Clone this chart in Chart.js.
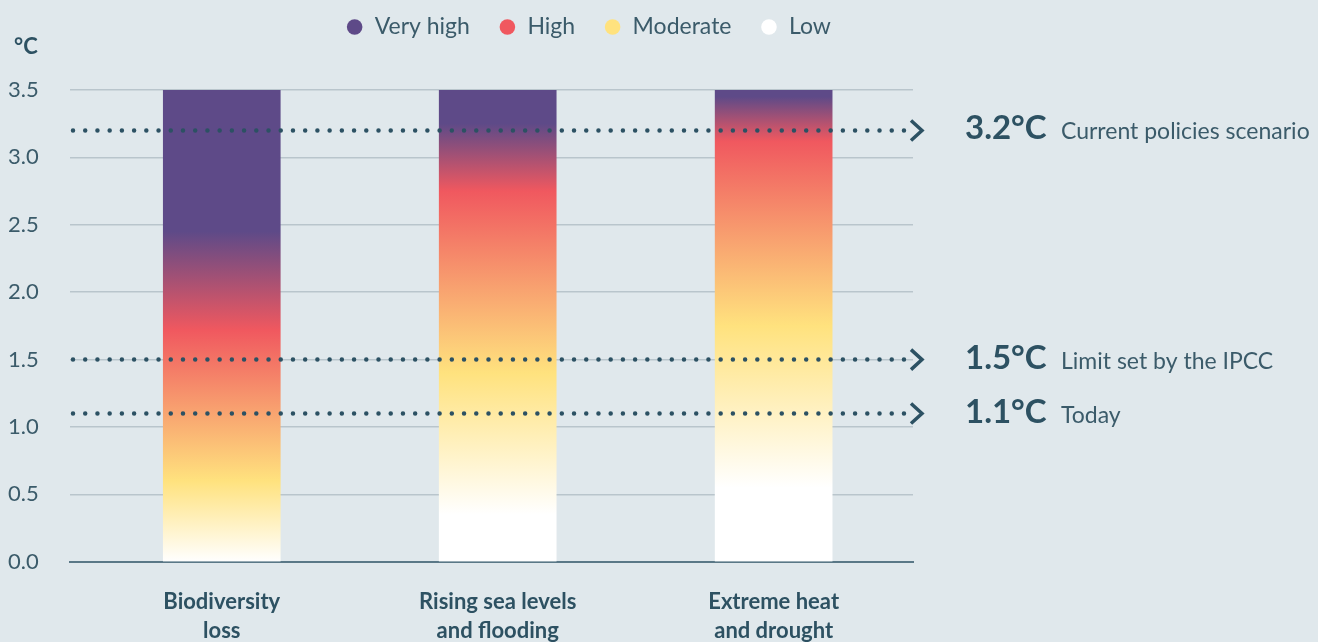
<!DOCTYPE html>
<html lang="en">
<head>
<meta charset="utf-8">
<title>Climate risk by warming level</title>
<script src="https://cdn.jsdelivr.net/npm/chart.js@4.4.1/dist/chart.umd.min.js"></script>
<style>
  html, body { margin: 0; padding: 0; background: #e0e8ec; }
  #wrap { width: 1318px; height: 642px; }
</style>
</head>
<body>
<div id="wrap"><canvas id="riskChart" width="1318" height="642"></canvas></div>
<script>
// Impact categories (two-line axis labels)
const categories = [
    ['Biodiversity', 'loss'],
    ['Rising sea levels', 'and flooding'],
    ['Extreme heat', 'and drought']
];

// Every bar spans the whole warming range on the axis
const barTop = [3.5, 3.5, 3.5];

// Warming (°C) where each risk level peaks, per category
const lowUntil = [0, 0.35, 0.55];
const moderateAt = [0.6, 1.4, 1.75];
const highAt = [1.72, 2.75, 3.12];
const veryHighFrom = [2.45, 3.25, 3.45];

// Risk levels shown in the legend
const riskLevels = ['Very high', 'High', 'Moderate', 'Low'];

// Reference warming levels drawn across the chart
const refValues = [3.2, 1.5, 1.1];
const refLabels = ['Current policies scenario', 'Limit set by the IPCC', 'Today'];

// Y axis ticks
const yTicks = [0, 0.5, 1.0, 1.5, 2.0, 2.5, 3.0, 3.5];

const riskColors = ['#5e4a88', '#f0585f', '#ffe27e', '#ffffff'];
const textColor = '#3b5b6a';
const darkText = '#2d5162';
const yMax = yTicks[yTicks.length - 1];

Chart.defaults.font.family = 'Lato, "Open Sans", sans-serif';
Chart.defaults.color = textColor;

function barGradient(context) {
    const chart = context.chart;
    const y = chart.scales.y;
    if (!chart.chartArea || !y || context.type !== 'data') {
        return riskColors[0];
    }
    const i = context.dataIndex;
    const g = chart.ctx.createLinearGradient(0, y.getPixelForValue(0), 0, y.getPixelForValue(yMax));
    const at = v => Math.min(1, Math.max(0, v / yMax));
    g.addColorStop(0, riskColors[3]);
    g.addColorStop(at(lowUntil[i]), riskColors[3]);
    g.addColorStop(at(moderateAt[i]), riskColors[2]);
    g.addColorStop(at(highAt[i]), riskColors[1]);
    g.addColorStop(at(veryHighFrom[i]), riskColors[0]);
    g.addColorStop(1, riskColors[0]);
    return g;
}

// Dotted reference lines with arrow heads and their labels, plus the unit label
const refLinesPlugin = {
    id: 'refLines',
    afterDatasetsDraw(chart) {
        const { ctx, chartArea, scales: { y } } = chart;
        ctx.save();
        refValues.forEach((v, i) => {
            const py = y.getPixelForValue(v);

            ctx.strokeStyle = '#2c5163';
            ctx.lineWidth = 4.5;
            ctx.lineCap = 'round';
            ctx.setLineDash([0, 12.22]);
            ctx.beginPath();
            ctx.moveTo(chartArea.left + 3, py);
            ctx.lineTo(chartArea.right - 9, py);
            ctx.stroke();

            ctx.setLineDash([]);
            ctx.lineWidth = 3.5;
            ctx.lineCap = 'butt';
            ctx.lineJoin = 'miter';
            ctx.beginPath();
            ctx.moveTo(chartArea.right - 2, py - 10);
            ctx.lineTo(chartArea.right + 9, py);
            ctx.lineTo(chartArea.right - 2, py + 10);
            ctx.stroke();

            ctx.textAlign = 'left';
            ctx.textBaseline = 'alphabetic';
            ctx.fillStyle = darkText;
            ctx.font = 'bold 33px Lato';
            ctx.fillText(v.toFixed(1) + '°C', chartArea.right + 52, py + 9);
            ctx.fillStyle = textColor;
            ctx.font = '23px Lato';
            ctx.fillText(refLabels[i], chartArea.right + 148, py + 9);
        });

        ctx.fillStyle = darkText;
        ctx.font = 'bold 22px Lato';
        ctx.textBaseline = 'middle';
        ctx.fillText('°C', 14, 47);
        ctx.restore();
    }
};

new Chart(document.getElementById('riskChart'), {
    type: 'bar',
    data: {
        datasets: [{
            label: 'Risk',
            data: barTop.map((v, i) => ({ x: i, y: v })),
            backgroundColor: barGradient,
            borderWidth: 0,
            barThickness: 117
        }]
    },
    options: {
        responsive: false,
        animation: false,
        layout: {
            padding: { top: -13.5, left: 8, right: 149, bottom: -29 }
        },
        plugins: {
            legend: {
                position: 'top',
                onClick: null,
                labels: {
                    usePointStyle: true,
                    boxWidth: 17,
                    boxHeight: 11,
                    padding: 29,
                    color: textColor,
                    font: { size: 23 },
                    generateLabels: () => riskLevels.map((name, i) => ({
                        text: name,
                        fillStyle: riskColors[i],
                        strokeStyle: riskColors[i],
                        lineWidth: 0,
                        pointStyle: 'circle',
                        hidden: false,
                        fontColor: textColor
                    }))
                }
            },
            // empty title keeps the gap between legend and plot
            title: {
                display: true,
                text: '',
                weight: 500,
                padding: 0,
                font: { size: 41.5, lineHeight: 1 }
            },
            tooltip: { enabled: false }
        },
        scales: {
            x: {
                type: 'linear',
                min: -0.55,
                max: 2.505,
                offset: false,
                grid: { display: false, drawTicks: false },
                border: { display: true, color: '#5a7887', width: 2 },
                ticks: {
                    stepSize: 1,
                    includeBounds: false,
                    autoSkip: false,
                    maxRotation: 0,
                    padding: 26,
                    color: darkText,
                    font: { size: 22, weight: 'bold', lineHeight: 1.3 },
                    callback: value => Number.isInteger(value) && categories[value] ? categories[value] : ''
                }
            },
            y: {
                min: 0,
                max: yMax,
                afterBuildTicks: scale => {
                    scale.ticks = yTicks.map(v => ({ value: v }));
                },
                afterFit: scale => {
                    scale.width = 62;
                },
                grid: {
                    drawTicks: false,
                    lineWidth: 1.5,
                    color: ctx => ctx.tick && ctx.tick.value === 0 ? 'rgba(0,0,0,0)' : '#b9c5cc'
                },
                border: { display: false },
                ticks: {
                    crossAlign: 'far',
                    color: textColor,
                    font: { size: 22 },
                    callback: value => value.toFixed(1)
                }
            },
            y2: {
                position: 'right',
                display: true,
                afterFit: scale => {
                    scale.width = 256;
                },
                grid: { display: false },
                border: { display: false },
                ticks: { display: false }
            }
        }
    },
    plugins: [refLinesPlugin]
});
</script>
</body>
</html>
